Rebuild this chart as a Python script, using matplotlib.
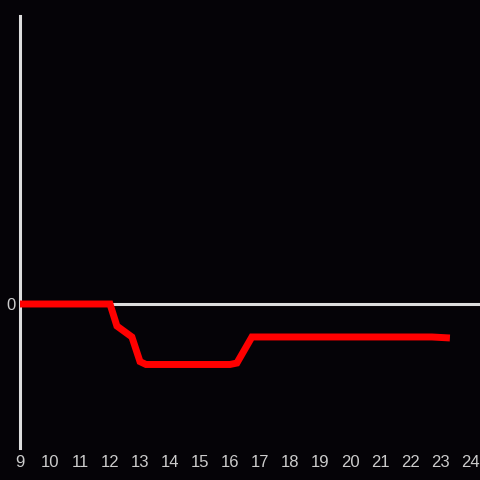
import matplotlib
matplotlib.use("Agg")
import matplotlib.pyplot as plt

plt.rcParams["font.family"] = ["Liberation Sans", "DejaVu Sans"]

# hours and values
hours = [9, 12.0, 12.23, 12.73, 13.0, 13.2, 16.0, 16.23, 16.73, 22.73, 23.33]
values = [0, 0, -0.153, -0.229, -0.40, -0.42, -0.42, -0.41, -0.229, -0.229, -0.236]
xticks = list(range(9, 25))

bg = "#050307"
fig = plt.figure(figsize=(4.8, 4.8), dpi=100, facecolor=bg)
ax = fig.add_axes([20/480, 32/480, 460/480, 432/480], facecolor=bg)

ax.axhline(0, color="#dddddd", lw=2.2, zorder=1)
ax.plot(hours, values, color="#ff0000", lw=5, solid_joinstyle="miter",
        solid_capstyle="butt", clip_on=False, zorder=3)

ax.set_xlim(9, 24.333)
ax.set_ylim(-1, 2)
ax.set_xticks(xticks)
ax.set_yticks([0])
ax.tick_params(length=0, colors="#cccccc", labelsize=12, pad=5)
ax.tick_params(axis="y", pad=3)

for s in ["top", "right", "bottom"]:
    ax.spines[s].set_visible(False)
ax.spines["left"].set_color("#dddddd")
ax.spines["left"].set_linewidth(2.2)

fig.savefig("out.png", dpi=100, facecolor=bg)
